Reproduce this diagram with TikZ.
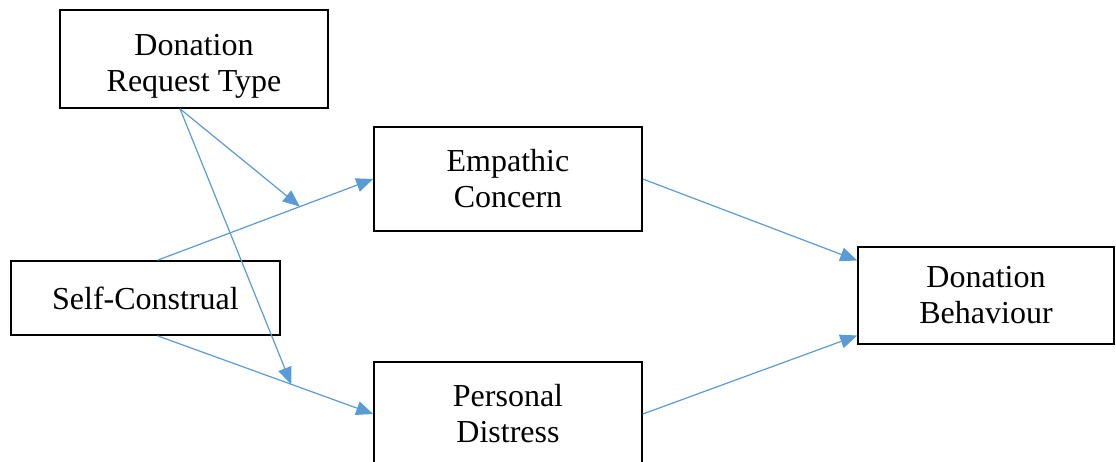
\documentclass[tikz,border=0pt]{standalone}
\usepackage{fontspec}
\setmainfont{Liberation Serif}
\usetikzlibrary{arrows.meta, positioning}
\definecolor{linkblue}{RGB}{91, 155, 213}

\begin{document}
\begin{tikzpicture}[x=1pt, y=-1pt,
  box/.style={draw=black, line width=1.6pt, minimum width=268pt, inner sep=0pt, align=center, font=\fontsize{32}{36}\selectfont},
  link/.style={draw=linkblue, line width=1.2pt, -{Triangle[length=17pt, width=14pt]}}]
  \useasboundingbox (0,0) rectangle (1116,461);
  \clip (0,0) rectangle (1116,461);

  % Boxes
  \node[box, minimum height=98pt] (drt) at (194,59) {\raisebox{-14pt}[0pt][0pt]{\begin{tabular}{@{}c@{}}Donation\\Request Type\end{tabular}}};
  \node[box, minimum height=104pt] (ec) at (508,179) {Empathic\\Concern};
  \node[box, minimum width=269pt, minimum height=74pt] (sc) at (145.5,298) {Self-Construal};
  \node[box, minimum height=104pt] (pd) at (508,414) {Personal\\Distress};
  \node[box, minimum width=256pt, minimum height=97pt] (db) at (986,295.5) {Donation\\Behaviour};

  % Paths
  \draw[link] ([xshift=12pt]sc.north) -- coordinate[pos=0.66] (mec) (ec.west);
  \draw[link] ([xshift=12pt]sc.south) -- coordinate[pos=0.62] (mpd) (pd.west);
  \draw[link] (ec.east) -- ([yshift=35pt]db.west);
  \draw[link] (pd.east) -- ([yshift=-40pt]db.west);

  % Moderation
  \draw[link] ([xshift=-14pt]drt.south) -- (mec);
  \draw[link] ([xshift=-14pt]drt.south) -- (mpd);
\end{tikzpicture}
\end{document}
